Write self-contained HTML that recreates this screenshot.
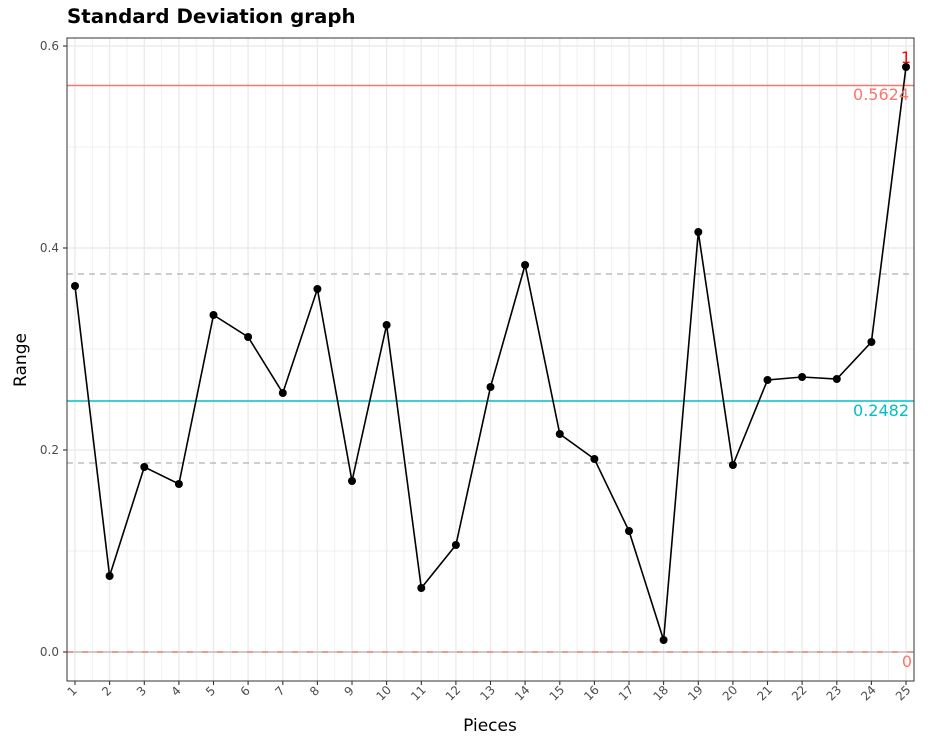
<!DOCTYPE html>
<html><head><meta charset="utf-8"><style>
body{margin:0;background:#fff}
svg{display:block;font-family:"DejaVu Sans","Liberation Sans",sans-serif}
</style></head><body>
<svg width="931" height="749" viewBox="0 0 931 749" xmlns="http://www.w3.org/2000/svg">
<rect width="931" height="749" fill="#fff"/>
<text x="67" y="23" font-size="19.8" font-weight="bold" fill="#000">Standard Deviation graph</text>
<g stroke="#ebebeb" stroke-width="0.7">
<line x1="67" x2="914" y1="551" y2="551"/><line x1="67" x2="914" y1="349" y2="349"/><line x1="67" x2="914" y1="147" y2="147"/>
<line x1="92.3" x2="92.3" y1="38" y2="681"/><line x1="127" x2="127" y1="38" y2="681"/><line x1="161.6" x2="161.6" y1="38" y2="681"/><line x1="196.2" x2="196.2" y1="38" y2="681"/><line x1="230.8" x2="230.8" y1="38" y2="681"/><line x1="265.5" x2="265.5" y1="38" y2="681"/><line x1="300.1" x2="300.1" y1="38" y2="681"/><line x1="334.7" x2="334.7" y1="38" y2="681"/><line x1="369.3" x2="369.3" y1="38" y2="681"/><line x1="404" x2="404" y1="38" y2="681"/><line x1="438.6" x2="438.6" y1="38" y2="681"/><line x1="473.2" x2="473.2" y1="38" y2="681"/><line x1="507.8" x2="507.8" y1="38" y2="681"/><line x1="542.5" x2="542.5" y1="38" y2="681"/><line x1="577.1" x2="577.1" y1="38" y2="681"/><line x1="611.7" x2="611.7" y1="38" y2="681"/><line x1="646.3" x2="646.3" y1="38" y2="681"/><line x1="681" x2="681" y1="38" y2="681"/><line x1="715.6" x2="715.6" y1="38" y2="681"/><line x1="750.2" x2="750.2" y1="38" y2="681"/><line x1="784.8" x2="784.8" y1="38" y2="681"/><line x1="819.5" x2="819.5" y1="38" y2="681"/><line x1="854.1" x2="854.1" y1="38" y2="681"/><line x1="888.7" x2="888.7" y1="38" y2="681"/>
</g>
<g stroke="#ebebeb" stroke-width="1.4">
<line x1="67" x2="914" y1="652" y2="652"/><line x1="67" x2="914" y1="450" y2="450"/><line x1="67" x2="914" y1="248" y2="248"/><line x1="67" x2="914" y1="46" y2="46"/>
<line x1="75" x2="75" y1="38" y2="681"/><line x1="109.6" x2="109.6" y1="38" y2="681"/><line x1="144.3" x2="144.3" y1="38" y2="681"/><line x1="178.9" x2="178.9" y1="38" y2="681"/><line x1="213.5" x2="213.5" y1="38" y2="681"/><line x1="248.1" x2="248.1" y1="38" y2="681"/><line x1="282.8" x2="282.8" y1="38" y2="681"/><line x1="317.4" x2="317.4" y1="38" y2="681"/><line x1="352" x2="352" y1="38" y2="681"/><line x1="386.6" x2="386.6" y1="38" y2="681"/><line x1="421.3" x2="421.3" y1="38" y2="681"/><line x1="455.9" x2="455.9" y1="38" y2="681"/><line x1="490.5" x2="490.5" y1="38" y2="681"/><line x1="525.1" x2="525.1" y1="38" y2="681"/><line x1="559.8" x2="559.8" y1="38" y2="681"/><line x1="594.4" x2="594.4" y1="38" y2="681"/><line x1="629" x2="629" y1="38" y2="681"/><line x1="663.6" x2="663.6" y1="38" y2="681"/><line x1="698.3" x2="698.3" y1="38" y2="681"/><line x1="732.9" x2="732.9" y1="38" y2="681"/><line x1="767.5" x2="767.5" y1="38" y2="681"/><line x1="802.1" x2="802.1" y1="38" y2="681"/><line x1="836.8" x2="836.8" y1="38" y2="681"/><line x1="871.4" x2="871.4" y1="38" y2="681"/><line x1="906" x2="906" y1="38" y2="681"/>
</g>
<line x1="67" x2="914" y1="85.5" y2="85.5" stroke="#f8766d" stroke-width="1.6"/>
<line x1="67" x2="914" y1="401" y2="401" stroke="#00bfc4" stroke-width="1.6"/>
<line x1="67" x2="914" y1="274" y2="274" stroke="#bebebe" stroke-width="1.4" stroke-dasharray="6,5"/>
<line x1="67" x2="914" y1="463" y2="463" stroke="#bebebe" stroke-width="1.4" stroke-dasharray="6,5"/>
<line x1="67" x2="914" y1="652" y2="652" stroke="#bebebe" stroke-width="1.4"/>
<line x1="67" x2="914" y1="652" y2="652" stroke="#f8766d" stroke-width="1.2" stroke-dasharray="6,9"/>
<polyline fill="none" stroke="#000" stroke-width="1.6" points="75,286 109.6,576 144.3,467 178.9,484 213.5,315 248.1,337 282.8,393 317.4,289 352,481 386.6,325 421.3,588 455.9,545 490.5,387 525.1,265 559.8,434 594.4,459 629,531 663.6,640 698.3,232 732.9,465 767.5,380 802.1,377 836.8,379 871.4,342 906,67"/>
<g fill="#000">
<circle cx="75" cy="286" r="4"/><circle cx="109.6" cy="576" r="4"/><circle cx="144.3" cy="467" r="4"/><circle cx="178.9" cy="484" r="4"/><circle cx="213.5" cy="315" r="4"/><circle cx="248.1" cy="337" r="4"/><circle cx="282.8" cy="393" r="4"/><circle cx="317.4" cy="289" r="4"/><circle cx="352" cy="481" r="4"/><circle cx="386.6" cy="325" r="4"/><circle cx="421.3" cy="588" r="4"/><circle cx="455.9" cy="545" r="4"/><circle cx="490.5" cy="387" r="4"/><circle cx="525.1" cy="265" r="4"/><circle cx="559.8" cy="434" r="4"/><circle cx="594.4" cy="459" r="4"/><circle cx="629" cy="531" r="4"/><circle cx="663.6" cy="640" r="4"/><circle cx="698.3" cy="232" r="4"/><circle cx="732.9" cy="465" r="4"/><circle cx="767.5" cy="380" r="4"/><circle cx="802.1" cy="377" r="4"/><circle cx="836.8" cy="379" r="4"/><circle cx="871.4" cy="342" r="4"/><circle cx="906" cy="67" r="4"/>
</g>
<g font-size="16" text-anchor="end">
<text x="911" y="63" fill="#ff0000">1</text>
<text x="909" y="100" fill="#f8766d">0.5624</text>
<text x="909" y="416" fill="#00bfc4">0.2482</text>
<text x="912" y="667" fill="#f8766d">0</text>
</g>
<rect x="67" y="38" width="847" height="643" fill="none" stroke="#333" stroke-width="1"/>
<g stroke="#333" stroke-width="1.1">
<line x1="63" x2="67" y1="652" y2="652"/><line x1="63" x2="67" y1="450" y2="450"/><line x1="63" x2="67" y1="248" y2="248"/><line x1="63" x2="67" y1="46" y2="46"/>
</g>
<g font-size="12" fill="#4d4d4d" text-anchor="end">
<text x="59" y="656">0.0</text><text x="59" y="454">0.2</text><text x="59" y="252">0.4</text><text x="59" y="50">0.6</text>
</g>
<g stroke="#333" stroke-width="1.1">
<line x1="75" x2="75" y1="681" y2="685"/><line x1="109.6" x2="109.6" y1="681" y2="685"/><line x1="144.3" x2="144.3" y1="681" y2="685"/><line x1="178.9" x2="178.9" y1="681" y2="685"/><line x1="213.5" x2="213.5" y1="681" y2="685"/><line x1="248.1" x2="248.1" y1="681" y2="685"/><line x1="282.8" x2="282.8" y1="681" y2="685"/><line x1="317.4" x2="317.4" y1="681" y2="685"/><line x1="352" x2="352" y1="681" y2="685"/><line x1="386.6" x2="386.6" y1="681" y2="685"/><line x1="421.3" x2="421.3" y1="681" y2="685"/><line x1="455.9" x2="455.9" y1="681" y2="685"/><line x1="490.5" x2="490.5" y1="681" y2="685"/><line x1="525.1" x2="525.1" y1="681" y2="685"/><line x1="559.8" x2="559.8" y1="681" y2="685"/><line x1="594.4" x2="594.4" y1="681" y2="685"/><line x1="629" x2="629" y1="681" y2="685"/><line x1="663.6" x2="663.6" y1="681" y2="685"/><line x1="698.3" x2="698.3" y1="681" y2="685"/><line x1="732.9" x2="732.9" y1="681" y2="685"/><line x1="767.5" x2="767.5" y1="681" y2="685"/><line x1="802.1" x2="802.1" y1="681" y2="685"/><line x1="836.8" x2="836.8" y1="681" y2="685"/><line x1="871.4" x2="871.4" y1="681" y2="685"/><line x1="906" x2="906" y1="681" y2="685"/>
</g>
<g font-size="12" fill="#4d4d4d" text-anchor="middle">
<text transform="translate(75,694) rotate(-45)">1</text>
<text transform="translate(109.6,694) rotate(-45)">2</text>
<text transform="translate(144.3,694) rotate(-45)">3</text>
<text transform="translate(178.9,694) rotate(-45)">4</text>
<text transform="translate(213.5,694) rotate(-45)">5</text>
<text transform="translate(248.1,694) rotate(-45)">6</text>
<text transform="translate(282.8,694) rotate(-45)">7</text>
<text transform="translate(317.4,694) rotate(-45)">8</text>
<text transform="translate(352,694) rotate(-45)">9</text>
<text transform="translate(386.6,696) rotate(-45)">10</text>
<text transform="translate(421.3,696) rotate(-45)">11</text>
<text transform="translate(455.9,696) rotate(-45)">12</text>
<text transform="translate(490.5,696) rotate(-45)">13</text>
<text transform="translate(525.1,696) rotate(-45)">14</text>
<text transform="translate(559.8,696) rotate(-45)">15</text>
<text transform="translate(594.4,696) rotate(-45)">16</text>
<text transform="translate(629,696) rotate(-45)">17</text>
<text transform="translate(663.6,696) rotate(-45)">18</text>
<text transform="translate(698.3,696) rotate(-45)">19</text>
<text transform="translate(732.9,696) rotate(-45)">20</text>
<text transform="translate(767.5,696) rotate(-45)">21</text>
<text transform="translate(802.1,696) rotate(-45)">22</text>
<text transform="translate(836.8,696) rotate(-45)">23</text>
<text transform="translate(871.4,696) rotate(-45)">24</text>
<text transform="translate(906,696) rotate(-45)">25</text>
</g>
<text x="490" y="731" font-size="17" text-anchor="middle" fill="#000">Pieces</text>
<text transform="translate(26,360) rotate(-90)" font-size="17" text-anchor="middle" fill="#000">Range</text>
</svg>
</body></html>
